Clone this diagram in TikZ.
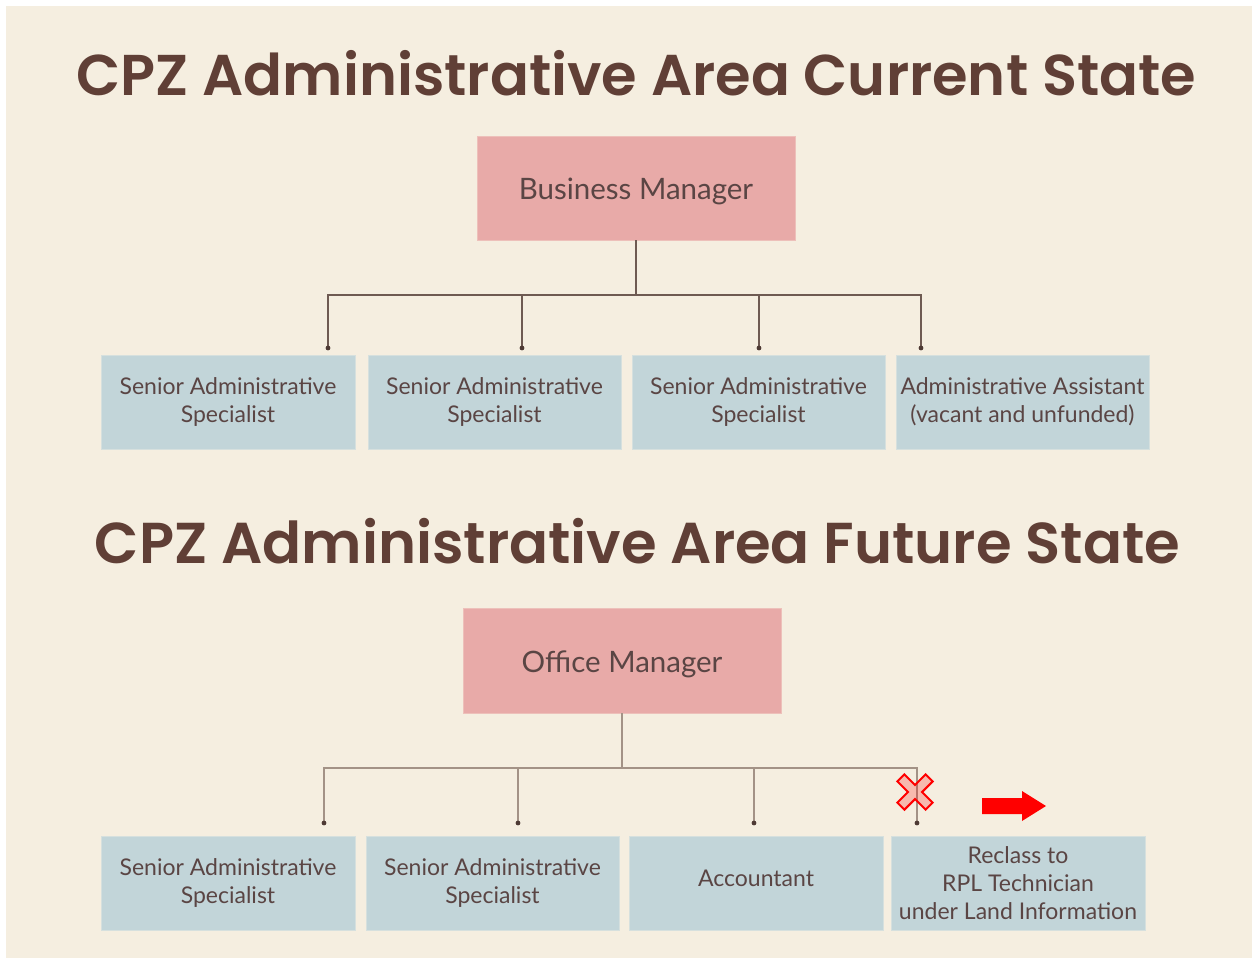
\documentclass[tikz,border=0pt]{standalone}
\usepackage{fontspec}
\setmainfont{Lato}
\newfontfamily\headfont{Poppins}[UprightFont=* SemiBold]
\definecolor{pagebg}{HTML}{F5EEE0}
\definecolor{headc}{HTML}{603F36}
\definecolor{txtc}{HTML}{5A4544}
\definecolor{pinkfill}{HTML}{E8AAA8}
\definecolor{pinkedge}{HTML}{EDC0BA}
\definecolor{bluefill}{HTML}{C2D5D9}
\definecolor{blueedge}{HTML}{D6E0DE}
\definecolor{linknow}{HTML}{6E5A52}
\definecolor{linknext}{HTML}{A39286}
\definecolor{dotc}{HTML}{4E3A34}
\newcommand{\shifttext}[2]{\raisebox{#1}[\height][\depth]{#2}}
\tikzset{
  x=1pt, y=-1pt,
  heading/.style={anchor=base, text=headc, inner sep=0pt},
  mgrbox/.style={draw=pinkedge, fill=pinkfill, line width=0.8pt, text=txtc,
    minimum width=318pt, minimum height=104pt, inner sep=0pt,
    font=\fontsize{29.5}{34}\selectfont},
  rolebox/.style={draw=blueedge, fill=bluefill, line width=0.8pt, text=txtc,
    minimum height=94pt, inner sep=0pt, align=center,
    font=\fontsize{23}{28}\selectfont},
  linkA/.style={draw=linknow, line width=1.5pt},
  linkB/.style={draw=linknext, line width=2.2pt},
  enddot/.style={fill=dotc},
}
\begin{document}
\begin{tikzpicture}
\useasboundingbox (0,0) rectangle (1254,962);
\fill[white] (0,0) rectangle (1254,962);
\fill[pagebg] (6,6) rectangle (1252,958);

% ---------- current state ----------
\node[heading] (title1) at (636.5,95)
  {\resizebox{1119pt}{!}{\headfont CPZ Administrative Area Current State}};

\node[mgrbox] (bm) at (636,188) {\shifttext{-3pt}{Business Manager}};

\node[rolebox, minimum width=254pt] (s1) at (228,402) {Senior Administrative\\Specialist};
\node[rolebox, minimum width=253pt] (s2) at (494.5,402) {Senior Administrative\\Specialist};
\node[rolebox, minimum width=253pt] (s3) at (758.5,402) {Senior Administrative\\Specialist};
\node[rolebox, minimum width=253pt] (aa) at (1022.5,402) {Administrative Assistant\\(vacant and unfunded)};

\coordinate (j1) at (636,295);
\coordinate (c1) at (328,348);
\coordinate (c2) at (522,348);
\coordinate (c3) at (759,348);
\coordinate (c4) at (921,348);
\draw[linkA] (bm.south) -- (j1);
\draw[linkA] (c1) |- (j1) -| (c4);
\draw[linkA] (c2) -- (c2 |- j1);
\draw[linkA] (c3) -- (c3 |- j1);
\foreach \p in {c1,c2,c3,c4} \fill[enddot] (\p) circle (2.4);

% ---------- future state ----------
\node[heading] (title2) at (637.5,563)
  {\resizebox{1085pt}{!}{\headfont CPZ Administrative Area Future State}};

\node[mgrbox, minimum height=105pt] (om) at (622,660.5) {\shifttext{-4pt}{Office Manager}};

\node[rolebox, minimum width=254pt] (f1) at (228,883) {Senior Administrative\\Specialist};
\node[rolebox, minimum width=253pt] (f2) at (492.5,883) {Senior Administrative\\Specialist};
\node[rolebox, minimum width=254pt] (acc) at (756,883) {\shifttext{5pt}{Accountant}};
\node[rolebox, minimum width=254pt] (rc) at (1018,883) {Reclass to\\RPL Technician\\under Land Information};

\coordinate (j2) at (622,768);
\coordinate (e1) at (324,823);
\coordinate (e2) at (518,823);
\coordinate (e3) at (754,823);
\coordinate (e4) at (917,823);
\draw[linkB] (om.south) -- (j2);
\draw[linkB] (e1) |- (j2) -| (e4);
\draw[linkB] (e2) -- (e2 |- j2);
\draw[linkB] (e3) -- (e3 |- j2);
\foreach \p in {e1,e2,e3,e4} \fill[enddot] (\p) circle (2.4);

% cross over the dropped position
\begin{scope}[shift={(915,792)}, rotate=45]
  \filldraw[draw=red, fill=red, fill opacity=0.22, line width=2pt, line join=miter]
    (-5,-20) -- (5,-20) -- (5,-5) -- (20,-5) -- (20,5) -- (5,5)
    -- (5,20) -- (-5,20) -- (-5,5) -- (-20,5) -- (-20,-5) -- (-5,-5) -- cycle;
\end{scope}

% arrow pointing to the reclassified role
\fill[red] (982,798) -- (1022,798) -- (1022,791) -- (1046,806)
  -- (1022,821) -- (1022,814) -- (982,814) -- cycle;
\end{tikzpicture}
\end{document}
